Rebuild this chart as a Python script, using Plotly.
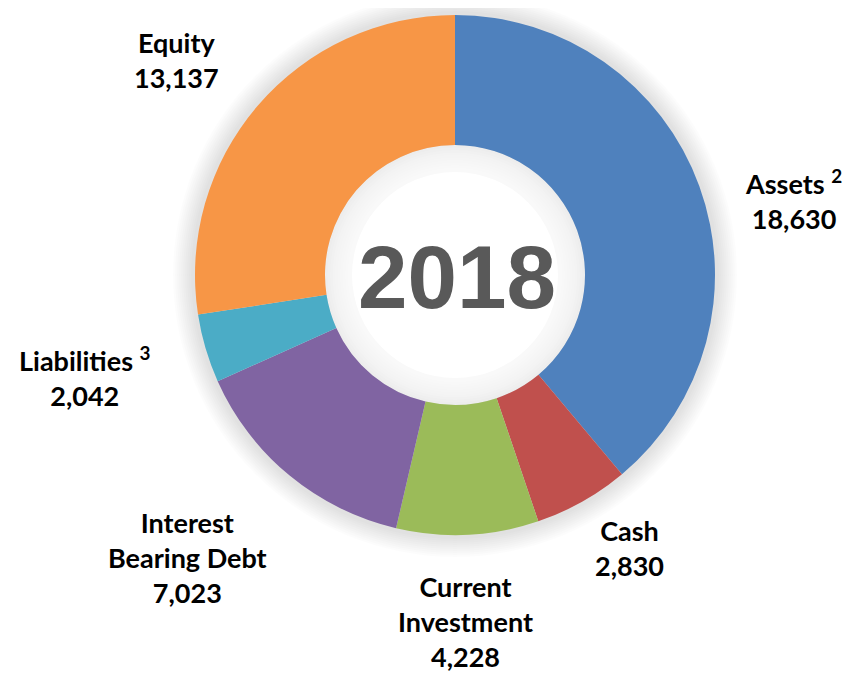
import plotly.graph_objects as go

# data
categories = ["Assets", "Cash", "Current Investment", "Interest Bearing Debt", "Liabilities", "Equity"]
values = [18630, 2830, 4228, 7023, 2042, 13137]
label_text = ["Assets <sup>2</sup>", "Cash", "Current<br>Investment", "Interest<br>Bearing Debt",
              "Liabilities <sup>3</sup>", "Equity"]
colors = ["#4F81BD", "#C0504D", "#9BBB59", "#8064A2", "#4BACC6", "#F79646"]
year = "2018"

W, H = 864, 675
off = 8  # page body margin
cx, cy, r = 455 - off, 275 - off, 260
r_in = r * 0.5


def circle(rad, fill):
    fig.add_shape(type="circle", xref="paper", yref="paper", layer="below",
                  x0=(cx - rad) / W, x1=(cx + rad) / W,
                  y0=(H - cy - rad) / H, y1=(H - cy + rad) / H,
                  fillcolor=fill, line=dict(width=0))


fig = go.Figure()
fig.add_trace(go.Pie(
    labels=categories, values=values, hole=0.5, sort=False, direction="clockwise",
    rotation=0, marker=dict(colors=colors, line=dict(width=0)),
    textinfo="none", hoverinfo="label+value", showlegend=False,
    domain=dict(x=[(cx - r) / W, (cx + r) / W], y=[(H - cy - r) / H, (H - cy + r) / H]),
))

# soft shadow outside the ring
for i in range(10):
    circle(r + 22 - i * 2, "rgba(0,0,0,0.013)")
circle(r_in, "white")
# soft shadow inside the hole
circle(r_in, "rgba(0,0,0,0.07)")
for i in range(1, 11):
    circle(r_in - i * 2.5, "rgba(255,255,255,0.14)")
circle(r_in - 27, "white")

# outside labels (hand placed like the original)
label_pos = [(793, 199), (629, 548), (465, 621), (187, 557), (85, 376), (176, 60)]
for txt, v, (x, y) in zip(label_text, values, label_pos):
    fig.add_annotation(x=(x - off) / W, y=1 - (y - off) / H, xref="paper", yref="paper",
                       xanchor="center", yanchor="middle",
                       text=f"{txt}<br>{v:,}", showarrow=False, align="center",
                       font=dict(family="Lato", size=27, color="#000000", weight="bold"))

fig.add_annotation(x=(457 - off) / W, y=1 - (277 - off) / H, xref="paper", yref="paper",
                   xanchor="center", yanchor="middle", text=year, showarrow=False,
                   font=dict(family="Liberation Sans", size=89, color="#595959", weight="bold"))

fig.update_layout(width=W, height=H, margin=dict(l=0, r=0, t=0, b=0),
                  paper_bgcolor="white", plot_bgcolor="white")

fig.write_html("out.html")
